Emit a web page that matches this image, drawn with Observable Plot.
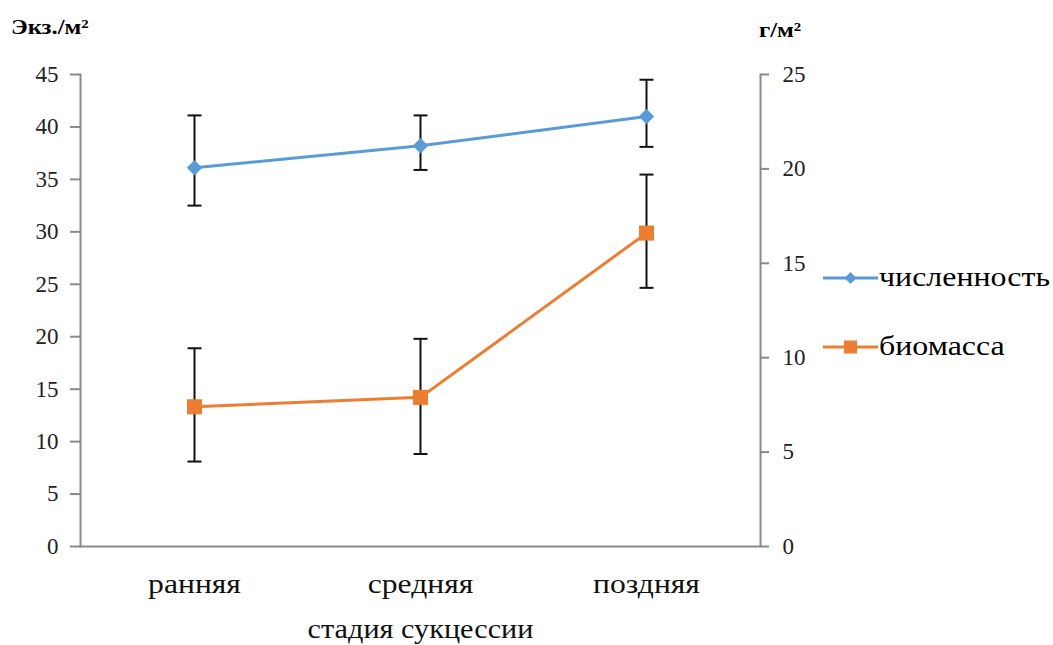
<!DOCTYPE html>
<html><head><meta charset="utf-8">
<script src="https://cdn.jsdelivr.net/npm/d3@7"></script>
<script src="https://cdn.jsdelivr.net/npm/@observablehq/plot@0.6"></script>
<style>
body{margin:0;background:#fff;font-family:'Liberation Serif',Tinos,'Times New Roman','DejaVu Serif',serif;}
#wrap{position:relative;width:1053px;height:645px;overflow:hidden}
#wrap svg text{font-family:'Liberation Serif',Tinos,'Times New Roman','DejaVu Serif',serif !important;}
#overlay{position:absolute;left:0;top:0;pointer-events:none}
</style></head><body><div id="wrap"></div>
<script>
// Data
const stages = ["ранняя", "средняя", "поздняя"];
const abundance     = [36.1, 38.2, 41.0];   // экз./м², left axis
const abundanceLow  = [32.5, 35.9, 38.1];
const abundanceHigh = [41.1, 41.1, 44.5];
const biomass       = [7.4, 7.9, 16.6];     // г/м², right axis
const biomassLow    = [4.5, 4.9, 13.7];
const biomassHigh   = [10.5, 11.0, 19.7];
const leftTicks  = [0, 5, 10, 15, 20, 25, 30, 35, 40, 45];
const rightTicks = [0, 5, 10, 15, 20, 25];
const seriesNames = ["численность", "биомасса"];
const xTitle = "стадия сукцессии";
const leftUnit = "Экз./м²";
const rightUnit = "г/м²";

const BLUE = "#5b9bd5", ORANGE = "#ed7d31", AXIS = "#898989";
const k = 45 / 25; // secondary axis mapped onto primary

const ab = stages.map((s, i) => ({stage: s, v: abundance[i], lo: abundanceLow[i], hi: abundanceHigh[i]}));
const bm = stages.map((s, i) => ({stage: s, v: biomass[i] * k, lo: biomassLow[i] * k, hi: biomassHigh[i] * k}));

const capSymbol = {draw(ctx, size) { const w = Math.sqrt(size / Math.PI); ctx.moveTo(-w, 0); ctx.lineTo(w, 0); }};

const chart = Plot.plot({
  width: 1053, height: 645,
  marginLeft: 80, marginRight: 293, marginTop: 74, marginBottom: 99,
  style: {background: "white", color: "#000"},
  x: {type: "point", domain: stages, padding: 0.5},
  y: {domain: [0, 45]},
  marks: [
    Plot.ruleY([0], {stroke: AXIS, strokeWidth: 2}),
    Plot.frame({anchor: "left", stroke: AXIS, strokeWidth: 2}),
    Plot.frame({anchor: "right", stroke: AXIS, strokeWidth: 2}),
    Plot.axisY(leftTicks, {anchor: "left", tickSize: 10, tickPadding: 12, fontSize: 23, stroke: AXIS, strokeWidth: 2, label: null, color: "#222"}),
    Plot.axisY(rightTicks.map(t => t * k), {anchor: "right", tickSize: 8, tickPadding: 14, fontSize: 23, stroke: AXIS, strokeWidth: 2, label: null, color: "#222", tickFormat: d => Math.round(d / k)}),
    Plot.axisX({anchor: "bottom", tickSize: 0, tickPadding: 27, fontSize: 28, label: xTitle, labelAnchor: "center", labelArrow: "none", labelOffset: 91, color: "#111"}),
    // error bars
    ...[ab, bm].flatMap(d => [
      Plot.ruleX(d, {x: "stage", y1: "lo", y2: "hi", stroke: "#111", strokeWidth: 2}),
      Plot.dot(d, {x: "stage", y: "lo", symbol: capSymbol, r: 7, stroke: "#111", strokeWidth: 2, fill: "none"}),
      Plot.dot(d, {x: "stage", y: "hi", symbol: capSymbol, r: 7, stroke: "#111", strokeWidth: 2, fill: "none"})
    ]),
    Plot.line(ab, {x: "stage", y: "v", stroke: BLUE, strokeWidth: 3}),
    Plot.line(bm, {x: "stage", y: "v", stroke: ORANGE, strokeWidth: 3}),
    Plot.dot(ab, {x: "stage", y: "v", symbol: "diamond2", r: 7, fill: BLUE, stroke: "none"}),
    Plot.dot(bm, {x: "stage", y: "v", symbol: "square", r: 8.5, fill: ORANGE, stroke: "none"})
  ]
});
const wrap = document.getElementById("wrap");
wrap.appendChild(chart);

// the reference's lettering is slightly wide: stretch glyphs with textLength
function stretch(t, s) {
  const L = t.getComputedTextLength();
  t.setAttribute("textLength", (L * s).toFixed(1));
  t.setAttribute("lengthAdjust", "spacingAndGlyphs");
}
chart.querySelectorAll('g[aria-label="x-axis tick label"] text').forEach(t => stretch(t, 1.13));
chart.querySelectorAll('g[aria-label="x-axis label"] text').forEach(t => stretch(t, 1.08));

// overlay: unit labels and legend
const ns = "http://www.w3.org/2000/svg";
const ov = document.createElementNS(ns, "svg");
ov.setAttribute("id", "overlay"); ov.setAttribute("width", 1053); ov.setAttribute("height", 645);
wrap.appendChild(ov);
function txt(str, x, y, size, bold, s) {
  const t = document.createElementNS(ns, "text");
  t.setAttribute("x", x); t.setAttribute("y", y);
  t.setAttribute("font-size", size); t.setAttribute("fill", "#000");
  if (bold) t.setAttribute("font-weight", "bold");
  t.textContent = str; ov.appendChild(t);
  stretch(t, s); return t;
}
txt(leftUnit, 11, 34, 22, true, 1.12);
txt(rightUnit, 759, 37, 22, true, 1.12);

[[seriesNames[0], BLUE, "diamond"], [seriesNames[1], ORANGE, "square"]].forEach(([name, col, sym], i) => {
  const cy = i === 0 ? 278 : 347;
  const ln = document.createElementNS(ns, "line");
  ln.setAttribute("x1", 823); ln.setAttribute("x2", 878); ln.setAttribute("y1", cy); ln.setAttribute("y2", cy);
  ln.setAttribute("stroke", col); ln.setAttribute("stroke-width", 3);
  ov.appendChild(ln);
  const m = document.createElementNS(ns, "path");
  const cx = 850.5;
  m.setAttribute("d", sym === "diamond"
    ? `M${cx},${cy - 6} L${cx + 6},${cy} L${cx},${cy + 6} L${cx - 6},${cy}Z`
    : `M${cx - 6.5},${cy - 6.5} h13 v13 h-13Z`);
  m.setAttribute("fill", col);
  ov.appendChild(m);
  txt(name, 879, cy + 8, 28, false, 1.14);
});
</script>
</body></html>
